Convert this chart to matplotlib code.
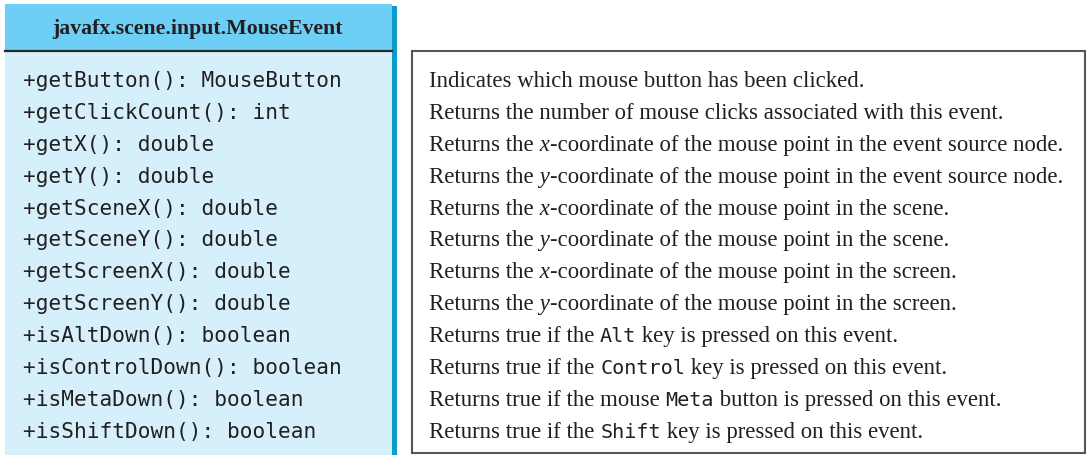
import matplotlib.pyplot as plt
from matplotlib.patches import Rectangle

class_name = "javafx.scene.input.MouseEvent"

methods = [
    "+getButton(): MouseButton",
    "+getClickCount(): int",
    "+getX(): double",
    "+getY(): double",
    "+getSceneX(): double",
    "+getSceneY(): double",
    "+getScreenX(): double",
    "+getScreenY(): double",
    "+isAltDown(): boolean",
    "+isControlDown(): boolean",
    "+isMetaDown(): boolean",
    "+isShiftDown(): boolean",
]

# each description is a list of (text, style) pieces: r = roman, i = italic, m = mono, s = space
descriptions = [
    [("Indicates which mouse button has been clicked.", "r")],
    [("Returns the number of mouse clicks associated with this event.", "r")],
    [("Returns the", "r"), (" x", "i"), ("-coordinate of the mouse point in the event source node.", "r")],
    [("Returns the", "r"), (" y", "i"), ("-coordinate of the mouse point in the event source node.", "r")],
    [("Returns the", "r"), (" x", "i"), ("-coordinate of the mouse point in the scene.", "r")],
    [("Returns the", "r"), (" y", "i"), ("-coordinate of the mouse point in the scene.", "r")],
    [("Returns the", "r"), (" x", "i"), ("-coordinate of the mouse point in the screen.", "r")],
    [("Returns the", "r"), (" y", "i"), ("-coordinate of the mouse point in the screen.", "r")],
    [("Returns true if the", "r"), ("", "s"), ("Alt", "m"), (" key is pressed on this event.", "r")],
    [("Returns true if the", "r"), ("", "s"), ("Control", "m"), (" key is pressed on this event.", "r")],
    [("Returns true if the mouse", "r"), ("", "s"), ("Meta", "m"), (" button is pressed on this event.", "r")],
    [("Returns true if the", "r"), ("", "s"), ("Shift", "m"), (" key is pressed on this event.", "r")],
]

W, H = 1087, 456
fig = plt.figure(figsize=(W / 100, H / 100), dpi=100)
ax = fig.add_axes([0, 0, 1, 1])
ax.set_xlim(0, W)
ax.set_ylim(H, 0)
ax.axis("off")

ink = "#231f20"

# left class box
ax.add_patch(Rectangle((392, 7), 5, H - 7, facecolor="#0a9ccc", edgecolor="none"))
ax.add_patch(Rectangle((5, 5), 387, 47, facecolor="#6dcff6", edgecolor="none"))
ax.add_patch(Rectangle((5, 52), 387, H - 52, facecolor="#d5effb", edgecolor="none"))
ax.plot([5, 392], [52, 52], color="#2a2a2a", lw=1.6)
ax.text(197, 29, class_name, family="Liberation Serif", weight="bold",
        fontsize=15.7, ha="center", va="center", color=ink)

# right description box
ax.add_patch(Rectangle((412, 52), 673, 402, facecolor="white",
                       edgecolor="#555555", lw=1.5))

row0 = 87
step = 31.9
mono = "DejaVu Sans Mono"
serif = "Liberation Serif"

for i, m in enumerate(methods):
    ax.text(23, row0 + i * step, m, family=mono, fontsize=15.2,
            va="baseline", ha="left", color=ink)

renderer = fig.canvas.get_renderer()
styles = {
    "r": dict(family=serif, fontsize=16.4),
    "i": dict(family=serif, fontsize=16.4, style="italic"),
    "m": dict(family=mono, fontsize=14.5),
}

# width of one serif space
a = ax.text(0, 0, "x x", **styles["r"])
b = ax.text(0, 0, "xx", **styles["r"])
space_w = a.get_window_extent(renderer).width - b.get_window_extent(renderer).width
a.remove()
b.remove()

for i, parts in enumerate(descriptions):
    x = 429
    y = row0 + i * step
    for txt, st in parts:
        if st == "s":
            x += space_w
            continue
        t = ax.text(x, y, txt, va="baseline", ha="left", color=ink, **styles[st])
        x += t.get_window_extent(renderer).width

fig.savefig("out.png", dpi=100)
